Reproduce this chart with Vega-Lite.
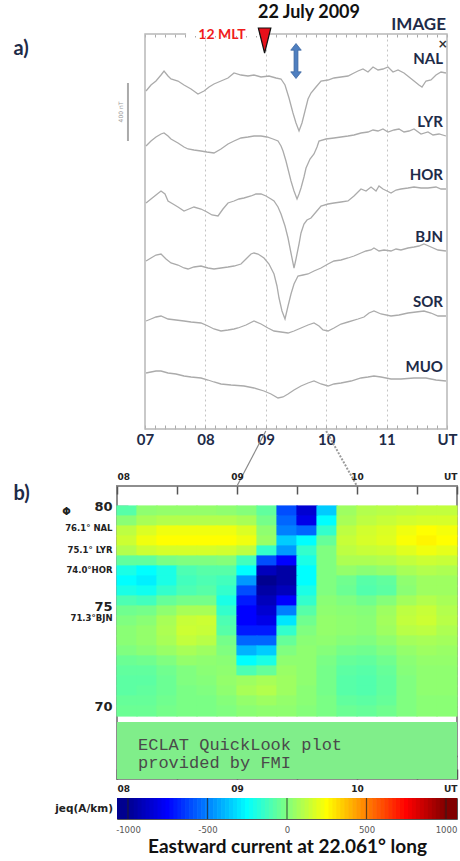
{
"$schema": "https://vega.github.io/schema/vega-lite/v6.json",
"background": "white",
"padding": {"left": 12, "top": 3, "right": 0, "bottom": 5},
"config": {"font": "Lato"},
"datasets": {
"traces": [
{"s":"NAL","t":7.017,"b":338},{"s":"NAL","t":7.099,"b":344},{"s":"NAL","t":7.182,"b":348},{"s":"NAL","t":7.265,"b":354},{"s":"NAL","t":7.315,"b":358},{"s":"NAL","t":7.381,"b":353},{"s":"NAL","t":7.43,"b":350},{"s":"NAL","t":7.546,"b":348},{"s":"NAL","t":7.646,"b":344},{"s":"NAL","t":7.762,"b":340},{"s":"NAL","t":7.877,"b":335},{"s":"NAL","t":7.977,"b":338},{"s":"NAL","t":8.06,"b":342},{"s":"NAL","t":8.142,"b":345},{"s":"NAL","t":8.258,"b":348},{"s":"NAL","t":8.374,"b":351},{"s":"NAL","t":8.474,"b":356},{"s":"NAL","t":8.589,"b":354},{"s":"NAL","t":8.705,"b":353},{"s":"NAL","t":8.805,"b":354},{"s":"NAL","t":8.921,"b":352},{"s":"NAL","t":9.053,"b":353},{"s":"NAL","t":9.169,"b":351},{"s":"NAL","t":9.252,"b":350},{"s":"NAL","t":9.318,"b":344},{"s":"NAL","t":9.384,"b":331},{"s":"NAL","t":9.45,"b":316},{"s":"NAL","t":9.5,"b":306},{"s":"NAL","t":9.55,"b":298},{"s":"NAL","t":9.599,"b":306},{"s":"NAL","t":9.649,"b":318},{"s":"NAL","t":9.699,"b":330},{"s":"NAL","t":9.748,"b":336},{"s":"NAL","t":9.831,"b":342},{"s":"NAL","t":9.914,"b":348},{"s":"NAL","t":10.03,"b":349},{"s":"NAL","t":10.129,"b":351},{"s":"NAL","t":10.245,"b":352},{"s":"NAL","t":10.361,"b":353},{"s":"NAL","t":10.46,"b":356},{"s":"NAL","t":10.526,"b":358},{"s":"NAL","t":10.609,"b":360},{"s":"NAL","t":10.692,"b":357},{"s":"NAL","t":10.775,"b":362},{"s":"NAL","t":10.858,"b":359},{"s":"NAL","t":10.94,"b":360},{"s":"NAL","t":11.023,"b":362},{"s":"NAL","t":11.106,"b":357},{"s":"NAL","t":11.189,"b":359},{"s":"NAL","t":11.288,"b":356},{"s":"NAL","t":11.371,"b":352},{"s":"NAL","t":11.454,"b":348},{"s":"NAL","t":11.536,"b":344},{"s":"NAL","t":11.586,"b":342},{"s":"NAL","t":11.652,"b":348},{"s":"NAL","t":11.735,"b":349},{"s":"NAL","t":11.818,"b":354},{"s":"NAL","t":11.901,"b":357},{"s":"NAL","t":11.983,"b":356},
{"s":"LYR","t":7.017,"b":283},{"s":"LYR","t":7.099,"b":288},{"s":"LYR","t":7.182,"b":292},{"s":"LYR","t":7.265,"b":295},{"s":"LYR","t":7.315,"b":296},{"s":"LYR","t":7.381,"b":293},{"s":"LYR","t":7.43,"b":290},{"s":"LYR","t":7.546,"b":286},{"s":"LYR","t":7.646,"b":282},{"s":"LYR","t":7.712,"b":280},{"s":"LYR","t":7.811,"b":279},{"s":"LYR","t":7.927,"b":278},{"s":"LYR","t":8.026,"b":277},{"s":"LYR","t":8.142,"b":276},{"s":"LYR","t":8.258,"b":280},{"s":"LYR","t":8.374,"b":285},{"s":"LYR","t":8.474,"b":288},{"s":"LYR","t":8.589,"b":291},{"s":"LYR","t":8.705,"b":292},{"s":"LYR","t":8.805,"b":293},{"s":"LYR","t":8.921,"b":293},{"s":"LYR","t":9.02,"b":292},{"s":"LYR","t":9.119,"b":290},{"s":"LYR","t":9.202,"b":288},{"s":"LYR","t":9.252,"b":283},{"s":"LYR","t":9.285,"b":278},{"s":"LYR","t":9.334,"b":268},{"s":"LYR","t":9.384,"b":256},{"s":"LYR","t":9.417,"b":248},{"s":"LYR","t":9.467,"b":238},{"s":"LYR","t":9.517,"b":230},{"s":"LYR","t":9.55,"b":235},{"s":"LYR","t":9.583,"b":241},{"s":"LYR","t":9.632,"b":252},{"s":"LYR","t":9.666,"b":261},{"s":"LYR","t":9.732,"b":270},{"s":"LYR","t":9.798,"b":275},{"s":"LYR","t":9.848,"b":282},{"s":"LYR","t":9.881,"b":288},{"s":"LYR","t":9.997,"b":290},{"s":"LYR","t":10.129,"b":291},{"s":"LYR","t":10.245,"b":292},{"s":"LYR","t":10.361,"b":293},{"s":"LYR","t":10.46,"b":294},{"s":"LYR","t":10.576,"b":296},{"s":"LYR","t":10.692,"b":297},{"s":"LYR","t":10.775,"b":299},{"s":"LYR","t":10.858,"b":298},{"s":"LYR","t":10.94,"b":300},{"s":"LYR","t":11.023,"b":297},{"s":"LYR","t":11.123,"b":299},{"s":"LYR","t":11.205,"b":300},{"s":"LYR","t":11.288,"b":297},{"s":"LYR","t":11.371,"b":298},{"s":"LYR","t":11.454,"b":300},{"s":"LYR","t":11.57,"b":295},{"s":"LYR","t":11.685,"b":297},{"s":"LYR","t":11.768,"b":294},{"s":"LYR","t":11.868,"b":295},{"s":"LYR","t":11.983,"b":293},
{"s":"HOR","t":7.017,"b":226},{"s":"HOR","t":7.099,"b":230},{"s":"HOR","t":7.182,"b":234},{"s":"HOR","t":7.265,"b":238},{"s":"HOR","t":7.331,"b":235},{"s":"HOR","t":7.381,"b":228},{"s":"HOR","t":7.464,"b":225},{"s":"HOR","t":7.546,"b":222},{"s":"HOR","t":7.646,"b":218},{"s":"HOR","t":7.728,"b":220},{"s":"HOR","t":7.811,"b":222},{"s":"HOR","t":7.927,"b":220},{"s":"HOR","t":8.026,"b":217},{"s":"HOR","t":8.109,"b":214},{"s":"HOR","t":8.209,"b":213},{"s":"HOR","t":8.291,"b":220},{"s":"HOR","t":8.374,"b":226},{"s":"HOR","t":8.474,"b":228},{"s":"HOR","t":8.556,"b":230},{"s":"HOR","t":8.639,"b":231},{"s":"HOR","t":8.755,"b":233},{"s":"HOR","t":8.838,"b":235},{"s":"HOR","t":8.921,"b":235},{"s":"HOR","t":9.003,"b":233},{"s":"HOR","t":9.086,"b":230},{"s":"HOR","t":9.136,"b":228},{"s":"HOR","t":9.202,"b":222},{"s":"HOR","t":9.252,"b":215},{"s":"HOR","t":9.318,"b":203},{"s":"HOR","t":9.368,"b":191},{"s":"HOR","t":9.417,"b":176},{"s":"HOR","t":9.467,"b":161},{"s":"HOR","t":9.5,"b":170},{"s":"HOR","t":9.55,"b":185},{"s":"HOR","t":9.583,"b":196},{"s":"HOR","t":9.632,"b":205},{"s":"HOR","t":9.682,"b":209},{"s":"HOR","t":9.748,"b":211},{"s":"HOR","t":9.831,"b":217},{"s":"HOR","t":9.914,"b":223},{"s":"HOR","t":10.03,"b":225},{"s":"HOR","t":10.129,"b":226},{"s":"HOR","t":10.245,"b":227},{"s":"HOR","t":10.361,"b":228},{"s":"HOR","t":10.46,"b":233},{"s":"HOR","t":10.576,"b":240},{"s":"HOR","t":10.659,"b":238},{"s":"HOR","t":10.742,"b":242},{"s":"HOR","t":10.825,"b":238},{"s":"HOR","t":10.874,"b":243},{"s":"HOR","t":10.94,"b":240},{"s":"HOR","t":11.007,"b":238},{"s":"HOR","t":11.073,"b":236},{"s":"HOR","t":11.156,"b":239},{"s":"HOR","t":11.238,"b":240},{"s":"HOR","t":11.354,"b":241},{"s":"HOR","t":11.454,"b":242},{"s":"HOR","t":11.57,"b":241},{"s":"HOR","t":11.685,"b":241},{"s":"HOR","t":11.818,"b":242},{"s":"HOR","t":11.901,"b":240},{"s":"HOR","t":11.983,"b":240},
{"s":"BJN","t":7.017,"b":168},{"s":"BJN","t":7.099,"b":171},{"s":"BJN","t":7.182,"b":174},{"s":"BJN","t":7.265,"b":175},{"s":"BJN","t":7.348,"b":170},{"s":"BJN","t":7.43,"b":166},{"s":"BJN","t":7.546,"b":164},{"s":"BJN","t":7.646,"b":161},{"s":"BJN","t":7.712,"b":160},{"s":"BJN","t":7.811,"b":162},{"s":"BJN","t":7.927,"b":163},{"s":"BJN","t":8.043,"b":161},{"s":"BJN","t":8.142,"b":160},{"s":"BJN","t":8.258,"b":161},{"s":"BJN","t":8.374,"b":162},{"s":"BJN","t":8.474,"b":163},{"s":"BJN","t":8.589,"b":165},{"s":"BJN","t":8.672,"b":170},{"s":"BJN","t":8.755,"b":175},{"s":"BJN","t":8.805,"b":176},{"s":"BJN","t":8.871,"b":175},{"s":"BJN","t":8.97,"b":171},{"s":"BJN","t":9.053,"b":165},{"s":"BJN","t":9.136,"b":155},{"s":"BJN","t":9.185,"b":143},{"s":"BJN","t":9.219,"b":131},{"s":"BJN","t":9.268,"b":118},{"s":"BJN","t":9.318,"b":110},{"s":"BJN","t":9.368,"b":123},{"s":"BJN","t":9.417,"b":135},{"s":"BJN","t":9.467,"b":145},{"s":"BJN","t":9.533,"b":153},{"s":"BJN","t":9.616,"b":154},{"s":"BJN","t":9.699,"b":155},{"s":"BJN","t":9.798,"b":158},{"s":"BJN","t":9.914,"b":161},{"s":"BJN","t":10.03,"b":165},{"s":"BJN","t":10.129,"b":168},{"s":"BJN","t":10.245,"b":169},{"s":"BJN","t":10.361,"b":171},{"s":"BJN","t":10.46,"b":173},{"s":"BJN","t":10.576,"b":176},{"s":"BJN","t":10.659,"b":178},{"s":"BJN","t":10.742,"b":179},{"s":"BJN","t":10.791,"b":181},{"s":"BJN","t":10.874,"b":178},{"s":"BJN","t":10.957,"b":179},{"s":"BJN","t":11.073,"b":178},{"s":"BJN","t":11.156,"b":180},{"s":"BJN","t":11.238,"b":179},{"s":"BJN","t":11.354,"b":181},{"s":"BJN","t":11.454,"b":182},{"s":"BJN","t":11.536,"b":183},{"s":"BJN","t":11.619,"b":185},{"s":"BJN","t":11.735,"b":182},{"s":"BJN","t":11.851,"b":179},{"s":"BJN","t":11.983,"b":178},
{"s":"SOR","t":7.017,"b":108},{"s":"SOR","t":7.099,"b":110},{"s":"SOR","t":7.182,"b":112},{"s":"SOR","t":7.265,"b":113},{"s":"SOR","t":7.381,"b":110},{"s":"SOR","t":7.513,"b":109},{"s":"SOR","t":7.646,"b":108},{"s":"SOR","t":7.762,"b":107},{"s":"SOR","t":7.927,"b":106},{"s":"SOR","t":8.043,"b":103},{"s":"SOR","t":8.142,"b":100},{"s":"SOR","t":8.258,"b":98},{"s":"SOR","t":8.374,"b":99},{"s":"SOR","t":8.474,"b":100},{"s":"SOR","t":8.54,"b":101},{"s":"SOR","t":8.672,"b":104},{"s":"SOR","t":8.805,"b":108},{"s":"SOR","t":8.921,"b":105},{"s":"SOR","t":9.036,"b":101},{"s":"SOR","t":9.136,"b":98},{"s":"SOR","t":9.252,"b":97},{"s":"SOR","t":9.368,"b":96},{"s":"SOR","t":9.467,"b":98},{"s":"SOR","t":9.583,"b":101},{"s":"SOR","t":9.699,"b":104},{"s":"SOR","t":9.798,"b":106},{"s":"SOR","t":9.881,"b":103},{"s":"SOR","t":9.947,"b":99},{"s":"SOR","t":10.03,"b":98},{"s":"SOR","t":10.129,"b":101},{"s":"SOR","t":10.245,"b":105},{"s":"SOR","t":10.361,"b":107},{"s":"SOR","t":10.526,"b":110},{"s":"SOR","t":10.626,"b":112},{"s":"SOR","t":10.709,"b":116},{"s":"SOR","t":10.791,"b":118},{"s":"SOR","t":10.907,"b":115},{"s":"SOR","t":11.073,"b":113},{"s":"SOR","t":11.205,"b":114},{"s":"SOR","t":11.354,"b":116},{"s":"SOR","t":11.487,"b":117},{"s":"SOR","t":11.619,"b":118},{"s":"SOR","t":11.735,"b":116},{"s":"SOR","t":11.851,"b":113},{"s":"SOR","t":11.983,"b":113},
{"s":"MUO","t":7.017,"b":56},{"s":"MUO","t":7.099,"b":57},{"s":"MUO","t":7.182,"b":58},{"s":"MUO","t":7.265,"b":58},{"s":"MUO","t":7.381,"b":56},{"s":"MUO","t":7.513,"b":55},{"s":"MUO","t":7.646,"b":53},{"s":"MUO","t":7.762,"b":52},{"s":"MUO","t":7.927,"b":51},{"s":"MUO","t":8.043,"b":49},{"s":"MUO","t":8.142,"b":47},{"s":"MUO","t":8.258,"b":45},{"s":"MUO","t":8.424,"b":44},{"s":"MUO","t":8.639,"b":43},{"s":"MUO","t":8.805,"b":41},{"s":"MUO","t":8.97,"b":38},{"s":"MUO","t":9.086,"b":35},{"s":"MUO","t":9.202,"b":31},{"s":"MUO","t":9.285,"b":32},{"s":"MUO","t":9.368,"b":35},{"s":"MUO","t":9.467,"b":39},{"s":"MUO","t":9.583,"b":43},{"s":"MUO","t":9.699,"b":46},{"s":"MUO","t":9.798,"b":48},{"s":"MUO","t":9.914,"b":45},{"s":"MUO","t":10.03,"b":43},{"s":"MUO","t":10.129,"b":45},{"s":"MUO","t":10.245,"b":46},{"s":"MUO","t":10.411,"b":48},{"s":"MUO","t":10.576,"b":51},{"s":"MUO","t":10.692,"b":52},{"s":"MUO","t":10.791,"b":53},{"s":"MUO","t":10.907,"b":52},{"s":"MUO","t":11.073,"b":50},{"s":"MUO","t":11.238,"b":50},{"s":"MUO","t":11.454,"b":51},{"s":"MUO","t":11.652,"b":51},{"s":"MUO","t":11.818,"b":49},{"s":"MUO","t":11.983,"b":48}
],
"grid": [
{"t":8.0833,"lat":79.75,"v":-80},{"t":8.25,"lat":79.75,"v":30},{"t":8.4167,"lat":79.75,"v":40},{"t":8.5833,"lat":79.75,"v":40},{"t":8.75,"lat":79.75,"v":40},{"t":8.9167,"lat":79.75,"v":30},{"t":9.0833,"lat":79.75,"v":10},{"t":9.25,"lat":79.75,"v":-60},{"t":9.4167,"lat":79.75,"v":-600},{"t":9.5833,"lat":79.75,"v":-850},{"t":9.75,"lat":79.75,"v":-350},{"t":9.9167,"lat":79.75,"v":60},{"t":10.0833,"lat":79.75,"v":100},{"t":10.25,"lat":79.75,"v":110},{"t":10.4167,"lat":79.75,"v":120},{"t":10.5833,"lat":79.75,"v":130},{"t":10.75,"lat":79.75,"v":130},
{"t":8.0833,"lat":79.25,"v":20},{"t":8.25,"lat":79.25,"v":80},{"t":8.4167,"lat":79.25,"v":100},{"t":8.5833,"lat":79.25,"v":100},{"t":8.75,"lat":79.25,"v":100},{"t":8.9167,"lat":79.25,"v":100},{"t":9.0833,"lat":79.25,"v":80},{"t":9.25,"lat":79.25,"v":-20},{"t":9.4167,"lat":79.25,"v":-550},{"t":9.5833,"lat":79.25,"v":-800},{"t":9.75,"lat":79.25,"v":-250},{"t":9.9167,"lat":79.25,"v":80},{"t":10.0833,"lat":79.25,"v":120},{"t":10.25,"lat":79.25,"v":140},{"t":10.4167,"lat":79.25,"v":160},{"t":10.5833,"lat":79.25,"v":170},{"t":10.75,"lat":79.25,"v":170},
{"t":8.0833,"lat":78.75,"v":120},{"t":8.25,"lat":78.75,"v":180},{"t":8.4167,"lat":78.75,"v":220},{"t":8.5833,"lat":78.75,"v":220},{"t":8.75,"lat":78.75,"v":220},{"t":8.9167,"lat":78.75,"v":220},{"t":9.0833,"lat":78.75,"v":180},{"t":9.25,"lat":78.75,"v":30},{"t":9.4167,"lat":78.75,"v":-500},{"t":9.5833,"lat":78.75,"v":-550},{"t":9.75,"lat":78.75,"v":-150},{"t":9.9167,"lat":78.75,"v":120},{"t":10.0833,"lat":78.75,"v":160},{"t":10.25,"lat":78.75,"v":180},{"t":10.4167,"lat":78.75,"v":220},{"t":10.5833,"lat":78.75,"v":250},{"t":10.75,"lat":78.75,"v":230},
{"t":8.0833,"lat":78.25,"v":150},{"t":8.25,"lat":78.25,"v":220},{"t":8.4167,"lat":78.25,"v":250},{"t":8.5833,"lat":78.25,"v":250},{"t":8.75,"lat":78.25,"v":250},{"t":8.9167,"lat":78.25,"v":250},{"t":9.0833,"lat":78.25,"v":220},{"t":9.25,"lat":78.25,"v":50},{"t":9.4167,"lat":78.25,"v":-350},{"t":9.5833,"lat":78.25,"v":-250},{"t":9.75,"lat":78.25,"v":-50},{"t":9.9167,"lat":78.25,"v":140},{"t":10.0833,"lat":78.25,"v":170},{"t":10.25,"lat":78.25,"v":190},{"t":10.4167,"lat":78.25,"v":240},{"t":10.5833,"lat":78.25,"v":270},{"t":10.75,"lat":78.25,"v":250},
{"t":8.0833,"lat":77.75,"v":100},{"t":8.25,"lat":77.75,"v":150},{"t":8.4167,"lat":77.75,"v":170},{"t":8.5833,"lat":77.75,"v":170},{"t":8.75,"lat":77.75,"v":170},{"t":8.9167,"lat":77.75,"v":160},{"t":9.0833,"lat":77.75,"v":120},{"t":9.25,"lat":77.75,"v":-150},{"t":9.4167,"lat":77.75,"v":-450},{"t":9.5833,"lat":77.75,"v":-150},{"t":9.75,"lat":77.75,"v":0},{"t":9.9167,"lat":77.75,"v":120},{"t":10.0833,"lat":77.75,"v":140},{"t":10.25,"lat":77.75,"v":150},{"t":10.4167,"lat":77.75,"v":190},{"t":10.5833,"lat":77.75,"v":220},{"t":10.75,"lat":77.75,"v":200},
{"t":8.0833,"lat":77.25,"v":-60},{"t":8.25,"lat":77.25,"v":-60},{"t":8.4167,"lat":77.25,"v":-10},{"t":8.5833,"lat":77.25,"v":0},{"t":8.75,"lat":77.25,"v":0},{"t":8.9167,"lat":77.25,"v":10},{"t":9.0833,"lat":77.25,"v":-120},{"t":9.25,"lat":77.25,"v":-600},{"t":9.4167,"lat":77.25,"v":-750},{"t":9.5833,"lat":77.25,"v":-200},{"t":9.75,"lat":77.25,"v":0},{"t":9.9167,"lat":77.25,"v":90},{"t":10.0833,"lat":77.25,"v":90},{"t":10.25,"lat":77.25,"v":100},{"t":10.4167,"lat":77.25,"v":130},{"t":10.5833,"lat":77.25,"v":150},{"t":10.75,"lat":77.25,"v":140},
{"t":8.0833,"lat":76.75,"v":-200},{"t":8.25,"lat":76.75,"v":-250},{"t":8.4167,"lat":76.75,"v":-200},{"t":8.5833,"lat":76.75,"v":-100},{"t":8.75,"lat":76.75,"v":-80},{"t":8.9167,"lat":76.75,"v":-80},{"t":9.0833,"lat":76.75,"v":-250},{"t":9.25,"lat":76.75,"v":-900},{"t":9.4167,"lat":76.75,"v":-950},{"t":9.5833,"lat":76.75,"v":-250},{"t":9.75,"lat":76.75,"v":0},{"t":9.9167,"lat":76.75,"v":40},{"t":10.0833,"lat":76.75,"v":20},{"t":10.25,"lat":76.75,"v":40},{"t":10.4167,"lat":76.75,"v":80},{"t":10.5833,"lat":76.75,"v":100},{"t":10.75,"lat":76.75,"v":90},
{"t":8.0833,"lat":76.25,"v":-250},{"t":8.25,"lat":76.25,"v":-280},{"t":8.4167,"lat":76.25,"v":-200},{"t":8.5833,"lat":76.25,"v":-120},{"t":8.75,"lat":76.25,"v":-100},{"t":8.9167,"lat":76.25,"v":-120},{"t":9.0833,"lat":76.25,"v":-450},{"t":9.25,"lat":76.25,"v":-1000},{"t":9.4167,"lat":76.25,"v":-950},{"t":9.5833,"lat":76.25,"v":-250},{"t":9.75,"lat":76.25,"v":0},{"t":9.9167,"lat":76.25,"v":-30},{"t":10.0833,"lat":76.25,"v":-80},{"t":10.25,"lat":76.25,"v":-60},{"t":10.4167,"lat":76.25,"v":30},{"t":10.5833,"lat":76.25,"v":60},{"t":10.75,"lat":76.25,"v":60},
{"t":8.0833,"lat":75.75,"v":-200},{"t":8.25,"lat":75.75,"v":-220},{"t":8.4167,"lat":75.75,"v":-150},{"t":8.5833,"lat":75.75,"v":-100},{"t":8.75,"lat":75.75,"v":-80},{"t":8.9167,"lat":75.75,"v":-150},{"t":9.0833,"lat":75.75,"v":-600},{"t":9.25,"lat":75.75,"v":-950},{"t":9.4167,"lat":75.75,"v":-900},{"t":9.5833,"lat":75.75,"v":-200},{"t":9.75,"lat":75.75,"v":0},{"t":9.9167,"lat":75.75,"v":-40},{"t":10.0833,"lat":75.75,"v":-90},{"t":10.25,"lat":75.75,"v":-70},{"t":10.4167,"lat":75.75,"v":20},{"t":10.5833,"lat":75.75,"v":60},{"t":10.75,"lat":75.75,"v":60},
{"t":8.0833,"lat":75.25,"v":-100},{"t":8.25,"lat":75.25,"v":-120},{"t":8.4167,"lat":75.25,"v":-50},{"t":8.5833,"lat":75.25,"v":-20},{"t":8.75,"lat":75.25,"v":-20},{"t":8.9167,"lat":75.25,"v":-200},{"t":9.0833,"lat":75.25,"v":-700},{"t":9.25,"lat":75.25,"v":-900},{"t":9.4167,"lat":75.25,"v":-750},{"t":9.5833,"lat":75.25,"v":-150},{"t":9.75,"lat":75.25,"v":20},{"t":9.9167,"lat":75.25,"v":0},{"t":10.0833,"lat":75.25,"v":-30},{"t":10.25,"lat":75.25,"v":10},{"t":10.4167,"lat":75.25,"v":70},{"t":10.5833,"lat":75.25,"v":100},{"t":10.75,"lat":75.25,"v":80},
{"t":8.0833,"lat":74.75,"v":-30},{"t":8.25,"lat":74.75,"v":-20},{"t":8.4167,"lat":74.75,"v":30},{"t":8.5833,"lat":74.75,"v":80},{"t":8.75,"lat":74.75,"v":80},{"t":8.9167,"lat":74.75,"v":-150},{"t":9.0833,"lat":74.75,"v":-750},{"t":9.25,"lat":74.75,"v":-850},{"t":9.4167,"lat":74.75,"v":-500},{"t":9.5833,"lat":74.75,"v":-80},{"t":9.75,"lat":74.75,"v":30},{"t":9.9167,"lat":74.75,"v":20},{"t":10.0833,"lat":74.75,"v":10},{"t":10.25,"lat":74.75,"v":60},{"t":10.4167,"lat":74.75,"v":120},{"t":10.5833,"lat":74.75,"v":140},{"t":10.75,"lat":74.75,"v":100},
{"t":8.0833,"lat":74.25,"v":0},{"t":8.25,"lat":74.25,"v":20},{"t":8.4167,"lat":74.25,"v":80},{"t":8.5833,"lat":74.25,"v":140},{"t":8.75,"lat":74.25,"v":150},{"t":8.9167,"lat":74.25,"v":-100},{"t":9.0833,"lat":74.25,"v":-750},{"t":9.25,"lat":74.25,"v":-800},{"t":9.4167,"lat":74.25,"v":-300},{"t":9.5833,"lat":74.25,"v":-30},{"t":9.75,"lat":74.25,"v":40},{"t":9.9167,"lat":74.25,"v":30},{"t":10.0833,"lat":74.25,"v":20},{"t":10.25,"lat":74.25,"v":70},{"t":10.4167,"lat":74.25,"v":130},{"t":10.5833,"lat":74.25,"v":150},{"t":10.75,"lat":74.25,"v":110},
{"t":8.0833,"lat":73.75,"v":20},{"t":8.25,"lat":73.75,"v":40},{"t":8.4167,"lat":73.75,"v":90},{"t":8.5833,"lat":73.75,"v":150},{"t":8.75,"lat":73.75,"v":140},{"t":8.9167,"lat":73.75,"v":-80},{"t":9.0833,"lat":73.75,"v":-700},{"t":9.25,"lat":73.75,"v":-700},{"t":9.4167,"lat":73.75,"v":-150},{"t":9.5833,"lat":73.75,"v":0},{"t":9.75,"lat":73.75,"v":40},{"t":9.9167,"lat":73.75,"v":30},{"t":10.0833,"lat":73.75,"v":20},{"t":10.25,"lat":73.75,"v":60},{"t":10.4167,"lat":73.75,"v":110},{"t":10.5833,"lat":73.75,"v":120},{"t":10.75,"lat":73.75,"v":90},
{"t":8.0833,"lat":73.25,"v":20},{"t":8.25,"lat":73.25,"v":40},{"t":8.4167,"lat":73.25,"v":80},{"t":8.5833,"lat":73.25,"v":130},{"t":8.75,"lat":73.25,"v":110},{"t":8.9167,"lat":73.25,"v":-20},{"t":9.0833,"lat":73.25,"v":-550},{"t":9.25,"lat":73.25,"v":-550},{"t":9.4167,"lat":73.25,"v":-50},{"t":9.5833,"lat":73.25,"v":20},{"t":9.75,"lat":73.25,"v":30},{"t":9.9167,"lat":73.25,"v":10},{"t":10.0833,"lat":73.25,"v":0},{"t":10.25,"lat":73.25,"v":30},{"t":10.4167,"lat":73.25,"v":70},{"t":10.5833,"lat":73.25,"v":80},{"t":10.75,"lat":73.25,"v":70},
{"t":8.0833,"lat":72.75,"v":0},{"t":8.25,"lat":72.75,"v":20},{"t":8.4167,"lat":72.75,"v":50},{"t":8.5833,"lat":72.75,"v":80},{"t":8.75,"lat":72.75,"v":60},{"t":8.9167,"lat":72.75,"v":0},{"t":9.0833,"lat":72.75,"v":-400},{"t":9.25,"lat":72.75,"v":-350},{"t":9.4167,"lat":72.75,"v":0},{"t":9.5833,"lat":72.75,"v":30},{"t":9.75,"lat":72.75,"v":10},{"t":9.9167,"lat":72.75,"v":-20},{"t":10.0833,"lat":72.75,"v":-30},{"t":10.25,"lat":72.75,"v":0},{"t":10.4167,"lat":72.75,"v":40},{"t":10.5833,"lat":72.75,"v":60},{"t":10.75,"lat":72.75,"v":50},
{"t":8.0833,"lat":72.25,"v":-40},{"t":8.25,"lat":72.25,"v":-30},{"t":8.4167,"lat":72.25,"v":0},{"t":8.5833,"lat":72.25,"v":40},{"t":8.75,"lat":72.25,"v":30},{"t":8.9167,"lat":72.25,"v":20},{"t":9.0833,"lat":72.25,"v":-250},{"t":9.25,"lat":72.25,"v":-200},{"t":9.4167,"lat":72.25,"v":30},{"t":9.5833,"lat":72.25,"v":30},{"t":9.75,"lat":72.25,"v":-10},{"t":9.9167,"lat":72.25,"v":-50},{"t":10.0833,"lat":72.25,"v":-60},{"t":10.25,"lat":72.25,"v":-30},{"t":10.4167,"lat":72.25,"v":20},{"t":10.5833,"lat":72.25,"v":40},{"t":10.75,"lat":72.25,"v":40},
{"t":8.0833,"lat":71.75,"v":-60},{"t":8.25,"lat":71.75,"v":-60},{"t":8.4167,"lat":71.75,"v":-30},{"t":8.5833,"lat":71.75,"v":0},{"t":8.75,"lat":71.75,"v":20},{"t":8.9167,"lat":71.75,"v":30},{"t":9.0833,"lat":71.75,"v":-100},{"t":9.25,"lat":71.75,"v":-50},{"t":9.4167,"lat":71.75,"v":50},{"t":9.5833,"lat":71.75,"v":30},{"t":9.75,"lat":71.75,"v":-20},{"t":9.9167,"lat":71.75,"v":-70},{"t":10.0833,"lat":71.75,"v":-80},{"t":10.25,"lat":71.75,"v":-50},{"t":10.4167,"lat":71.75,"v":10},{"t":10.5833,"lat":71.75,"v":30},{"t":10.75,"lat":71.75,"v":30},
{"t":8.0833,"lat":71.25,"v":-70},{"t":8.25,"lat":71.25,"v":-70},{"t":8.4167,"lat":71.25,"v":-40},{"t":8.5833,"lat":71.25,"v":0},{"t":8.75,"lat":71.25,"v":10},{"t":8.9167,"lat":71.25,"v":40},{"t":9.0833,"lat":71.25,"v":60},{"t":9.25,"lat":71.25,"v":80},{"t":9.4167,"lat":71.25,"v":60},{"t":9.5833,"lat":71.25,"v":30},{"t":9.75,"lat":71.25,"v":-20},{"t":9.9167,"lat":71.25,"v":-80},{"t":10.0833,"lat":71.25,"v":-90},{"t":10.25,"lat":71.25,"v":-60},{"t":10.4167,"lat":71.25,"v":0},{"t":10.5833,"lat":71.25,"v":30},{"t":10.75,"lat":71.25,"v":30},
{"t":8.0833,"lat":70.75,"v":-70},{"t":8.25,"lat":70.75,"v":-60},{"t":8.4167,"lat":70.75,"v":-40},{"t":8.5833,"lat":70.75,"v":-10},{"t":8.75,"lat":70.75,"v":0},{"t":8.9167,"lat":70.75,"v":30},{"t":9.0833,"lat":70.75,"v":80},{"t":9.25,"lat":70.75,"v":100},{"t":9.4167,"lat":70.75,"v":60},{"t":9.5833,"lat":70.75,"v":20},{"t":9.75,"lat":70.75,"v":-20},{"t":9.9167,"lat":70.75,"v":-80},{"t":10.0833,"lat":70.75,"v":-90},{"t":10.25,"lat":70.75,"v":-60},{"t":10.4167,"lat":70.75,"v":0},{"t":10.5833,"lat":70.75,"v":30},{"t":10.75,"lat":70.75,"v":30},
{"t":8.0833,"lat":70.25,"v":-50},{"t":8.25,"lat":70.25,"v":-50},{"t":8.4167,"lat":70.25,"v":-30},{"t":8.5833,"lat":70.25,"v":-10},{"t":8.75,"lat":70.25,"v":-10},{"t":8.9167,"lat":70.25,"v":10},{"t":9.0833,"lat":70.25,"v":40},{"t":9.25,"lat":70.25,"v":60},{"t":9.4167,"lat":70.25,"v":40},{"t":9.5833,"lat":70.25,"v":20},{"t":9.75,"lat":70.25,"v":-10},{"t":9.9167,"lat":70.25,"v":-60},{"t":10.0833,"lat":70.25,"v":-70},{"t":10.25,"lat":70.25,"v":-50},{"t":10.4167,"lat":70.25,"v":0},{"t":10.5833,"lat":70.25,"v":20},{"t":10.75,"lat":70.25,"v":20},
{"t":8.0833,"lat":69.75,"v":-40},{"t":8.25,"lat":69.75,"v":-40},{"t":8.4167,"lat":69.75,"v":-20},{"t":8.5833,"lat":69.75,"v":-10},{"t":8.75,"lat":69.75,"v":-10},{"t":8.9167,"lat":69.75,"v":0},{"t":9.0833,"lat":69.75,"v":20},{"t":9.25,"lat":69.75,"v":30},{"t":9.4167,"lat":69.75,"v":30},{"t":9.5833,"lat":69.75,"v":10},{"t":9.75,"lat":69.75,"v":-10},{"t":9.9167,"lat":69.75,"v":-40},{"t":10.0833,"lat":69.75,"v":-50},{"t":10.25,"lat":69.75,"v":-30},{"t":10.4167,"lat":69.75,"v":0},{"t":10.5833,"lat":69.75,"v":20},{"t":10.75,"lat":69.75,"v":20}
],
"bar": [
{"v":-1075},{"v":-1050},{"v":-1025},{"v":-1000},{"v":-975},{"v":-950},{"v":-925},{"v":-900},{"v":-875},{"v":-850},{"v":-825},{"v":-800},{"v":-775},{"v":-750},{"v":-725},{"v":-700},{"v":-675},{"v":-650},{"v":-625},{"v":-600},{"v":-575},{"v":-550},{"v":-525},{"v":-500},{"v":-475},{"v":-450},{"v":-425},{"v":-400},{"v":-375},{"v":-350},{"v":-325},{"v":-300},{"v":-275},{"v":-250},{"v":-225},{"v":-200},{"v":-175},{"v":-150},{"v":-125},{"v":-100},{"v":-75},{"v":-50},{"v":-25},{"v":0},{"v":25},{"v":50},{"v":75},{"v":100},{"v":125},{"v":150},{"v":175},{"v":200},{"v":225},{"v":250},{"v":275},{"v":300},{"v":325},{"v":350},{"v":375},{"v":400},{"v":425},{"v":450},{"v":475},{"v":500},{"v":525},{"v":550},{"v":575},{"v":600},{"v":625},{"v":650},{"v":675},{"v":700},{"v":725},{"v":750},{"v":775},{"v":800},{"v":825},{"v":850},{"v":875},{"v":900},{"v":925},{"v":950},{"v":975},{"v":1000},{"v":1025},{"v":1050},{"v":1075}
]
},
"spacing": 57,
"bounds": "flush",
"vconcat": [
{
"width": 330, "height": 395,
"view": {"stroke": null},
"resolve": {"axis": {"x": "independent"}},
"layer": [
{"data": {"values": [{}]},
 "mark": {"type": "rect", "fill": "transparent", "stroke": "#b8b8b8", "strokeWidth": 1.5},
 "encoding": {
  "x": {"datum": 7, "type": "quantitative", "axis": {"orient": "top", "values": [7,7.1667,7.3333,7.5,7.6667,7.8333,8,8.1667,8.3333,8.5,8.6667,8.8333,9,9.1667,9.3333,9.5,9.6667,9.8333,10,10.1667,10.3333,10.5,10.6667,10.8333,11,11.1667,11.3333,11.5,11.6667,11.8333,12], "labels": false, "domain": false, "grid": false, "tickSize": -3, "tickColor": "#aaaaaa",
   "title": "a)", "titleAngle": 0, "titleX": -104, "titleY": 14, "titleAlign": "left", "titleBaseline": "middle", "titleFontSize": 20, "titleFontWeight": "bold", "titleFont": "Lato", "titleColor": "#1e2b48"}},
  "x2": {"datum": 12},
  "y": {"datum": 0, "type": "quantitative", "axis": null},
  "y2": {"datum": 395}}},
{"data": {"name": "traces"},
 "mark": {"type": "line", "color": "#ababab", "strokeWidth": 1.3},
 "encoding": {
  "x": {"field": "t", "type": "quantitative", "scale": {"domain": [6.5364, 12], "nice": false, "zero": false},
   "axis": {"orient": "bottom", "values": [7,7.1667,7.3333,7.5,7.6667,7.8333,8,8.1667,8.3333,8.5,8.6667,8.8333,9,9.1667,9.3333,9.5,9.6667,9.8333,10,10.1667,10.3333,10.5,10.6667,10.8333,11,11.1667,11.3333,11.5,11.6667,11.8333,12],
    "labelExpr": "abs(datum.value - round(datum.value)) < 0.01 ? (round(datum.value) == 12 ? 'UT' : (datum.value < 9.5 ? '0' : '') + round(datum.value)) : ''",
    "domain": false, "tickSize": -4, "tickColor": "#aaaaaa", "labelPadding": 7, "labelFlush": false, "labelOverlap": false,
    "labelFont": "Lato", "labelFontSize": 15, "labelFontWeight": "bold", "labelColor": "#1e2b48",
    "grid": true, "gridColor": "#c4c4c4", "gridDash": [2, 3],
    "gridOpacity": {"condition": {"test": "abs(datum.value - round(datum.value)) < 0.01 && datum.value > 7.5 && datum.value < 11.5", "value": 1}, "value": 0},
    "title": null}},
  "y": {"field": "b", "type": "quantitative", "scale": {"domain": [0, 395], "nice": false, "zero": false}, "axis": null},
  "detail": {"field": "s"}}},
{"data": {"name": "traces"},
 "transform": [{"filter": {"field": "t", "gte": 11.98}}],
 "mark": {"type": "text", "align": "right", "baseline": "middle", "dx": -3, "dy": -14, "font": "Lato", "fontSize": 15, "fontWeight": "bold", "color": "#1e2b48"},
 "encoding": {"x": {"field": "t", "type": "quantitative", "axis": null}, "y": {"field": "b", "type": "quantitative", "axis": null}, "text": {"field": "s"}}},
{"data": {"values": [{}]},
 "mark": {"type": "rule", "color": "white", "strokeWidth": 4},
 "encoding": {"x": {"datum": 7.68, "axis": null}, "x2": {"datum": 8.89}, "y": {"datum": 395, "axis": null}}},
{"data": {"values": [{}]},
 "mark": {"type": "rule", "color": "#8a8a8a", "strokeWidth": 1.2, "clip": false},
 "encoding": {"x": {"datum": 9, "axis": null}, "x2": {"datum": 8.523}, "y": {"datum": -2, "axis": null}, "y2": {"datum": -57}}},
{"data": {"values": [{}]},
 "mark": {"type": "rule", "color": "#9a9a9a", "strokeWidth": 2, "strokeDash": [2, 1.5], "clip": false},
 "encoding": {"x": {"datum": 10, "axis": null}, "x2": {"datum": 10.51}, "y": {"datum": -2, "axis": null}, "y2": {"datum": -57}}},
{"data": {"values": [{}]},
 "mark": {"type": "text", "text": "12 MLT", "align": "center", "baseline": "middle", "font": "Lato", "fontSize": 14, "fontWeight": "bold", "color": "#f01c1c"},
 "encoding": {"x": {"datum": 8.275, "axis": null}, "y": {"datum": 394, "axis": null}}},
{"data": {"values": [{}]},
 "mark": {"type": "point", "shape": "M-0.5,-1L0.5,-1L0,1Z", "size": 625, "filled": true, "opacity": 1, "fill": "#e8101a", "stroke": "#111111", "strokeWidth": 1.2},
 "encoding": {"x": {"datum": 8.98, "axis": null}, "y": {"datum": 388.5, "axis": null}}},
{"data": {"values": [{}]},
 "mark": {"type": "point", "shape": "M0,-1L0.3,-0.62L0.11,-0.62L0.11,0.62L0.3,0.62L0,1L-0.3,0.62L-0.11,0.62L-0.11,-0.62L-0.3,-0.62Z", "size": 1225, "filled": true, "opacity": 1, "fill": "#4f7fc0", "stroke": "#3a64a0", "strokeWidth": 0.8},
 "encoding": {"x": {"datum": 9.5, "axis": null}, "y": {"datum": 368, "axis": null}}},
{"data": {"values": [{}]},
 "mark": {"type": "text", "text": "22 July 2009", "align": "center", "baseline": "middle", "font": "Lato", "fontSize": 18, "fontWeight": "bold", "color": "#111111"},
 "encoding": {"x": {"datum": 9.715, "axis": null}, "y": {"datum": 416, "axis": null}}},
{"data": {"values": [{}]},
 "mark": {"type": "text", "text": "IMAGE", "align": "right", "baseline": "middle", "font": "Lato", "fontSize": 17, "fontWeight": "bold", "color": "#1e2b48"},
 "encoding": {"x": {"datum": 11.983, "axis": null}, "y": {"datum": 404, "axis": null}}},
{"data": {"values": [{}]},
 "mark": {"type": "text", "text": "×", "align": "center", "baseline": "middle", "font": "DejaVu Sans", "fontSize": 12, "fontWeight": "bold", "color": "#333333"},
 "encoding": {"x": {"datum": 11.93, "axis": null}, "y": {"datum": 385, "axis": null}}},
{"data": {"values": [{}]},
 "mark": {"type": "rule", "color": "#aaaaaa", "strokeWidth": 2},
 "encoding": {"x": {"datum": 6.718, "axis": null}, "y": {"datum": 346, "axis": null}, "y2": {"datum": 288}}},
{"data": {"values": [{}]},
 "mark": {"type": "text", "text": "400 nT", "angle": 270, "align": "center", "baseline": "middle", "font": "DejaVu Sans", "fontSize": 6, "color": "#999999"},
 "encoding": {"x": {"datum": 6.6, "axis": null}, "y": {"datum": 317, "axis": null}}}
]
},
{
"spacing": 19,
"bounds": "flush",
"vconcat": [
{
"width": 340, "height": 293,
"view": {"stroke": "#8e8e8e", "strokeWidth": 2},
"resolve": {"axis": {"x": "independent", "y": "independent"}},
"layer": [
{"data": {"name": "grid"},
 "mark": {"type": "point", "shape": "M-1.06,-0.56L1.06,-0.56L1.06,0.56L-1.06,0.56Z", "size": 400, "filled": true, "opacity": 1, "strokeWidth": 0},
 "encoding": {
  "x": {"field": "t", "type": "quantitative", "scale": {"domain": [8, 10.8333], "nice": false, "zero": false},
   "axis": {"orient": "bottom", "values": [8, 8.5, 9, 9.5, 10, 10.5, 10.8333],
    "labelExpr": "datum.value > 10.8 ? 'UT' : (abs(datum.value - round(datum.value)) < 0.01 ? (datum.value < 9.5 ? '0' : '') + round(datum.value) : '')",
    "domain": false, "grid": false, "tickSize": -10, "tickColor": "#555555", "tickWidth": 1.5, "labelPadding": 15,
    "labelFont": "DejaVu Sans", "labelFontWeight": "bold", "labelFontSize": 9, "labelColor": "#222222", "labelFlush": true, "labelOverlap": false, "title": null}},
  "y": {"field": "lat", "type": "quantitative", "scale": {"domain": [66.35, 81], "nice": false, "zero": false},
   "axis": {"orient": "left", "values": [80, 78.92, 77.83, 76.83, 75, 74.45, 70, 67.5],
    "labelExpr": "datum.value == 80 ? '80' : abs(datum.value - 78.92) < 0.01 ? '76.1° NAL' : abs(datum.value - 77.83) < 0.01 ? '75.1° LYR' : abs(datum.value - 76.83) < 0.01 ? '74.0°HOR' : datum.value == 75 ? '75' : abs(datum.value - 74.45) < 0.01 ? '71.3°BJN' : datum.value == 70 ? '70' : ''",
    "domain": false, "grid": false, "tickSize": -11, "tickColor": "#555555", "tickWidth": 1.5, "labelPadding": 16,
    "labelFont": "DejaVu Sans", "labelFontWeight": "bold", "labelColor": "#222222", "labelBaseline": "middle", "labelOverlap": false,
    "labelFontSize": {"condition": {"test": "datum.value == 80 || datum.value == 75 || datum.value == 70", "value": 13}, "value": 8.5},
    "title": "Φ", "titleAngle": 0, "titleX": -51, "titleY": 25, "titleFontSize": 10, "titleFont": "DejaVu Sans", "titleFontWeight": "bold", "titleColor": "#222222", "titleAlign": "center", "titleBaseline": "middle"}},
  "color": {"field": "v", "type": "quantitative", "scale": {"type": "linear", "domain": [-1000, -750, -250, 250, 750, 1000], "range": ["#00008f", "#0000ff", "#00ffff", "#ffff00", "#ff0000", "#800000"], "interpolate": "rgb", "clamp": true}, "legend": null}}},
{"data": {"values": [{}]},
 "mark": {"type": "rect", "fill": "#80ee8a"},
 "encoding": {
  "x": {"datum": 8, "type": "quantitative", "axis": {"orient": "top", "values": [8, 8.5, 9, 9.5, 10, 10.5, 10.8333],
    "labelExpr": "datum.value > 10.8 ? 'UT' : (abs(datum.value - round(datum.value)) < 0.01 ? (datum.value < 9.5 ? '0' : '') + round(datum.value) : '')",
    "domain": false, "grid": false, "tickSize": -8, "tickColor": "#555555", "tickWidth": 1.5, "labelPadding": 13,
    "labelFont": "DejaVu Sans", "labelFontWeight": "bold", "labelFontSize": 9, "labelColor": "#222222", "labelFlush": true, "labelOverlap": false, "title": null}},
  "x2": {"datum": 10.8333},
  "y": {"datum": 69.2, "type": "quantitative", "axis": {"orient": "right", "values": [75, 70, 67.5], "labels": false, "domain": false, "grid": false, "tickSize": -9, "tickColor": "#555555", "tickWidth": 1.5,
    "title": "b)", "titleAngle": 0, "titleX": -444, "titleY": 7, "titleAlign": "left", "titleBaseline": "middle", "titleFontSize": 20, "titleFontWeight": "bold", "titleFont": "Lato", "titleColor": "#1e2b48"}},
  "y2": {"datum": 66.35}}},
{"data": {"values": [{}]},
 "mark": {"type": "text", "text": ["ECLAT QuickLook plot", "provided by FMI"], "align": "left", "baseline": "middle", "font": "Liberation Mono", "fontSize": 17, "lineHeight": 18, "color": "#4a4a4a"},
 "encoding": {"x": {"datum": 8.175, "axis": null}, "y": {"datum": 68.075, "axis": null}}}
]
},
{
"width": 340, "height": 21,
"view": {"stroke": "#555555", "strokeWidth": 1},
"resolve": {"axis": {"x": "independent"}},
"layer": [
{"data": {"name": "bar"},
 "mark": {"type": "tick", "thickness": 4.6, "size": 21, "orient": "vertical", "opacity": 1, "clip": true},
 "encoding": {
  "x": {"field": "v", "type": "quantitative", "scale": {"domain": [-1069, 1069], "nice": false, "zero": false},
   "axis": {"orient": "bottom", "values": [-1000, -500, 0, 500, 1000], "labelExpr": "'' + datum.value", "ticks": true, "tickSize": 0, "tickOpacity": 0, "domain": false, "grid": false,
    "labelFont": "DejaVu Sans", "labelFontSize": 8.5, "labelColor": "#555555", "labelPadding": 6, "labelFlush": false, "labelOverlap": false,
    "title": "Eastward current at 22.061° long", "titleFont": "Lato", "titleFontSize": 19, "titleFontWeight": "bold", "titleColor": "#111111", "titlePadding": 4}},
  "color": {"field": "v", "type": "quantitative", "scale": {"type": "linear", "domain": [-1000, -750, -250, 250, 750, 1000], "range": ["#00008f", "#0000ff", "#00ffff", "#ffff00", "#ff0000", "#800000"], "interpolate": "rgb", "clamp": true}, "legend": null}}},
{"data": {"name": "bar"},
 "transform": [{"filter": {"field": "v", "oneOf": [-1000, -500, 0, 500, 1000]}}],
 "mark": {"type": "rule", "color": "#222222", "opacity": 0.7, "strokeWidth": 1.2},
 "encoding": {"x": {"field": "v", "type": "quantitative", "axis": null}}},
{"data": {"values": [{}]},
 "mark": {"type": "text", "text": "jeq(A/km)", "align": "right", "baseline": "middle", "dx": -4, "font": "DejaVu Sans", "fontSize": 10.5, "fontWeight": "bold", "color": "#222222"},
 "encoding": {"x": {"datum": -1069, "axis": null}}}
]
}
]
}
]
}
